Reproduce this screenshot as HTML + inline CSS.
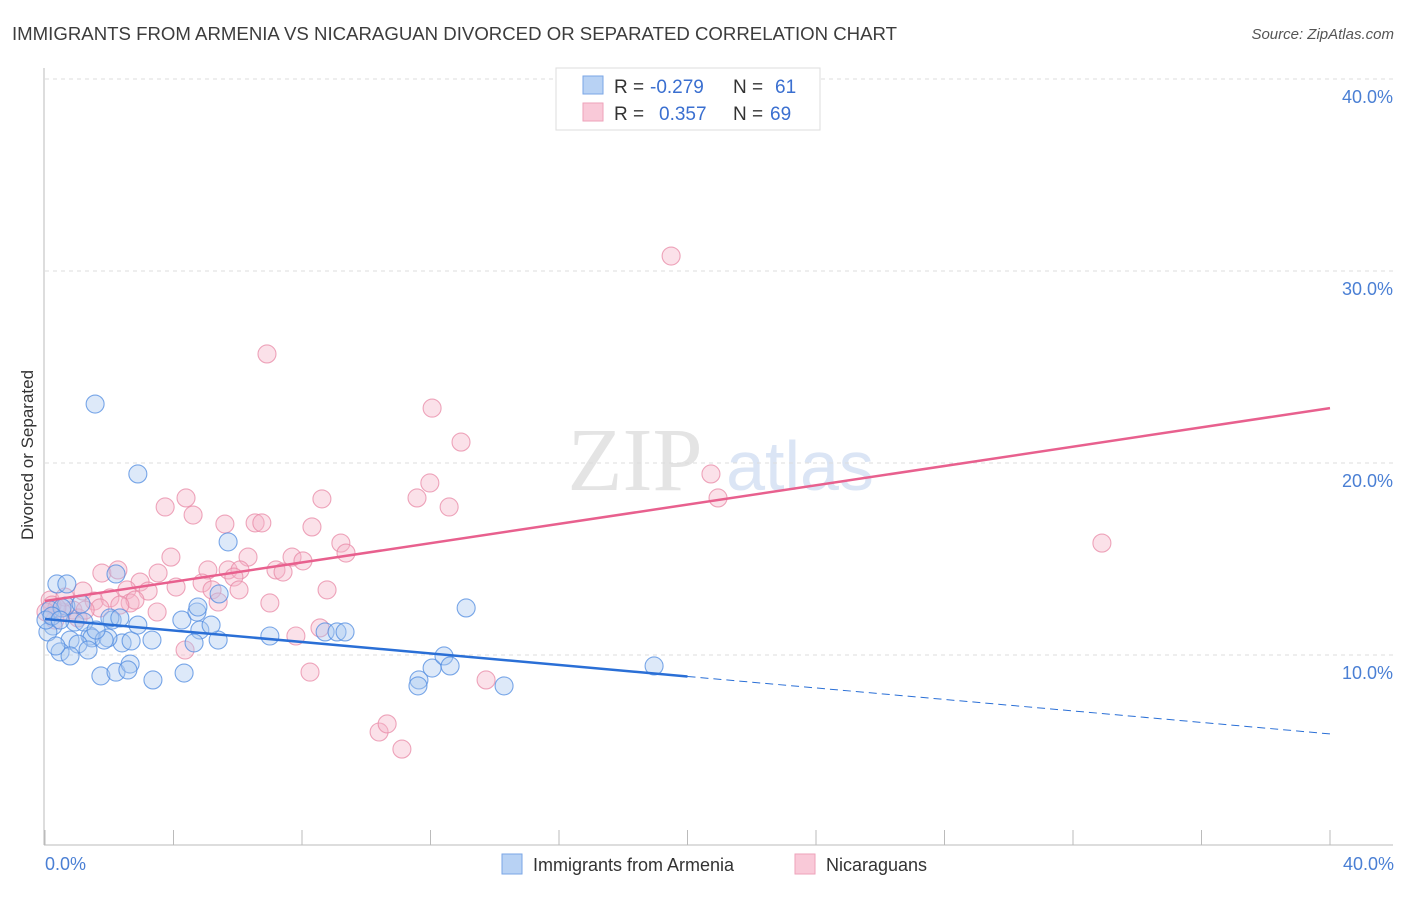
<!DOCTYPE html>
<html><head><meta charset="utf-8"><style>
body{margin:0;background:#fff;font-family:"Liberation Sans",sans-serif}
</style></head><body>
<svg width="1406" height="892" xmlns="http://www.w3.org/2000/svg" style="font-family:'Liberation Sans',sans-serif">
<text x="12" y="40" font-size="18" fill="#3c3c3c" textLength="885" lengthAdjust="spacingAndGlyphs">IMMIGRANTS FROM ARMENIA VS NICARAGUAN DIVORCED OR SEPARATED CORRELATION CHART</text>
<text x="1394" y="39" font-size="15" fill="#555" font-style="italic" text-anchor="end">Source: ZipAtlas.com</text>
<g>
<text x="635" y="490" font-size="90" fill="#e4e4e4" text-anchor="middle" font-family="Liberation Serif,serif">ZIP</text>
<text x="800" y="490" font-size="70" fill="#dbe5f5" text-anchor="middle">atlas</text>
</g>
<g id="grid"></g>
<g id="axes"></g>
<g id="marks"></g>
<g>
<rect x="556" y="68" width="264" height="62" fill="#fff" stroke="#ddd"/>
<rect x="583" y="76" width="20" height="18" fill="#b8d2f4" stroke="#7aa6e6"/>
<rect x="583" y="103" width="20" height="18" fill="#f9c9d8" stroke="#eea2ba"/>
<text x="614" y="93" font-size="19" fill="#333">R =</text>
<text x="650" y="93" font-size="19" fill="#3a6fd0">-0.279</text>
<text x="733" y="93" font-size="19" fill="#333">N =</text>
<text x="775" y="93" font-size="19" fill="#3a6fd0">61</text>
<text x="614" y="120" font-size="19" fill="#333">R =</text>
<text x="659" y="120" font-size="19" fill="#3a6fd0">0.357</text>
<text x="733" y="120" font-size="19" fill="#333">N =</text>
<text x="770" y="120" font-size="19" fill="#3a6fd0">69</text>
</g>
<text transform="translate(33,455) rotate(-90)" font-size="17" fill="#333" text-anchor="middle">Divorced or Separated</text>
<text x="45" y="870" font-size="18" fill="#4a7fd4">0.0%</text>
<text x="1394" y="870" font-size="18" fill="#4a7fd4" text-anchor="end">40.0%</text>
<g>
<rect x="502" y="854" width="20" height="20" fill="#b8d2f4" stroke="#7aa6e6"/>
<text x="533" y="871" font-size="18" fill="#333">Immigrants from Armenia</text>
<rect x="795" y="854" width="20" height="20" fill="#f9c9d8" stroke="#eea2ba"/>
<text x="826" y="871" font-size="18" fill="#333">Nicaraguans</text>
</g>
</svg>
<script>
const yTicks=[10,20,30,40];
const yTickLabels=["10.0%","20.0%","30.0%","40.0%"];
const xTicks=[0,4,8,12,16,20,24,28,32,36,40];
const blueX=[1.56,2.89,5.70,2.21,0.37,0.68,0.65,0.16,0.53,1.12,2.09,2.02,0.25,0.09,0.93,1.40,1.46,0.78,1.03,0.47,0.78,1.34,1.74,2.21,2.65,2.58,3.36,4.33,2.40,2.68,3.33,4.26,4.73,4.82,4.64,5.39,5.17,5.42,4.76,2.89,7.00,8.72,9.09,9.34,11.64,11.61,12.05,12.42,12.61,13.11,14.29,18.96,0.34,1.96,1.84,0.03,0.22,0.47,1.21,1.59,2.33];
const blueY=[23.07,19.43,15.89,14.22,13.70,13.70,12.55,12.34,12.45,12.66,11.82,11.93,11.51,11.20,11.72,10.99,10.89,10.78,10.57,10.16,9.95,10.26,8.91,9.11,9.53,9.22,8.70,9.06,10.63,10.73,10.78,11.82,12.24,11.30,10.63,10.78,11.56,13.18,12.50,11.56,10.99,11.20,11.20,11.20,8.70,8.39,9.32,9.95,9.43,12.45,8.39,9.43,10.47,10.89,10.78,11.82,12.03,11.82,11.72,11.30,11.93];
const pinkX=[19.49,6.91,12.05,12.95,20.73,20.95,32.90,11.58,11.98,12.58,8.62,4.39,3.74,4.61,5.60,6.54,6.75,8.31,9.21,9.37,3.92,6.32,7.69,8.03,5.07,5.70,6.07,5.88,7.19,7.41,1.77,2.27,2.96,3.52,4.89,5.20,6.04,8.78,4.08,2.55,3.21,1.18,1.53,2.65,3.49,5.39,7.00,2.02,0.87,0.53,0.16,0.31,1.03,1.71,8.56,7.81,8.25,10.40,10.65,11.11,13.73,4.36,0.22,0.62,2.80,0.37,1.25,2.33,0.03];
const pinkY=[30.78,25.68,22.86,21.09,19.43,18.18,15.83,18.18,18.96,17.71,18.13,18.18,17.71,17.29,16.82,16.88,16.88,16.67,15.83,15.31,15.10,15.10,15.10,14.90,14.43,14.43,14.43,14.06,14.43,14.32,14.27,14.43,13.80,14.27,13.75,13.39,13.39,13.39,13.54,13.39,13.33,13.33,12.81,12.71,12.24,12.76,12.71,12.97,12.34,12.24,12.86,11.82,11.93,12.45,11.41,10.99,9.11,5.99,6.41,5.10,8.70,10.26,12.60,13.02,12.86,12.45,12.34,12.60,12.24];
const blueTrend=[11.875,5.89];const blueSolidEnd=20;
const pinkTrend=[12.81,22.86];
const NS="http://www.w3.org/2000/svg";
const sx=v=>45+v*32.125, sy=v=>847-v*19.2;
function mk(tag,attrs,parent){const e=document.createElementNS(NS,tag);for(const k in attrs)e.setAttribute(k,attrs[k]);parent.appendChild(e);return e;}
const grid=document.getElementById('grid'),axes=document.getElementById('axes'),marks=document.getElementById('marks');
yTicks.forEach((t,i)=>{
 const l=mk('line',{x1:45,x2:1393,y1:sy(t),y2:sy(t),stroke:'#ddd','stroke-dasharray':'4,4'},grid);
 
 
 const tx=mk('text',{x:1393,y:sy(t)+24,'font-size':18,fill:'#4a7fd4','text-anchor':'end'},grid);
 tx.textContent=yTickLabels[i];
 
 
});
const ya=mk('line',{x1:44,x2:44,y1:68,y2:845,stroke:'#bbb'},axes);


const xa=mk('line',{x1:44,x2:1393,y1:845,y2:845,stroke:'#bbb'},axes);


xTicks.forEach(t=>{const l=mk('line',{x1:sx(t),x2:sx(t),y1:830,y2:845,stroke:'#bbb'},axes);
 
 });
function dots(X,Y,fill,stroke,name){X.forEach((x,i)=>{const c=mk('circle',{cx:sx(x),cy:sy(Y[i]),r:9,fill:fill,'fill-opacity':0.4,stroke:stroke,'stroke-width':1.1,'stroke-opacity':0.75},marks);
 
 });}
dots(pinkX,pinkY,'#f6b5c9','#e888a6','point-nicaraguans');
dots(blueX,blueY,'#a9c8f0','#4f8be0','point-armenia');
const lb=v=>blueTrend[0]+(blueTrend[1]-blueTrend[0])*v/40;
const t1=mk('line',{x1:sx(0),y1:sy(lb(0)),x2:sx(blueSolidEnd),y2:sy(lb(blueSolidEnd)),stroke:'#2a6fd6','stroke-width':2.5},marks);


const t2=mk('line',{x1:sx(blueSolidEnd),y1:sy(lb(blueSolidEnd)),x2:sx(40),y2:sy(lb(40)),stroke:'#2a6fd6','stroke-width':1,'stroke-dasharray':'8,5'},marks);


const t3=mk('line',{x1:sx(0),y1:sy(pinkTrend[0]),x2:sx(40),y2:sy(pinkTrend[1]),stroke:'#e8608e','stroke-width':2.5},marks);


</script>
</body></html>
